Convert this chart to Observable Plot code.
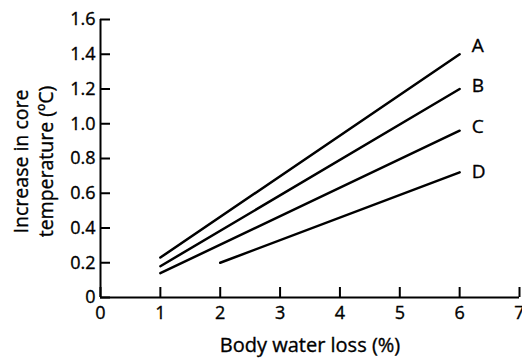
<!DOCTYPE html>
<html>
<head>
<meta charset="utf-8">
<script src="https://cdn.jsdelivr.net/npm/d3@7"></script>
<script src="https://cdn.jsdelivr.net/npm/@observablehq/plot@0.6"></script>
<style>
  html, body { margin: 0; padding: 0; background: #fff; }
  svg { font-family: "Open Sans", "Noto Sans", sans-serif; }
  svg text { stroke: #000; stroke-width: 0.35px; }
</style>
</head>
<body>
<div id="chart"></div>
<script>
const seriesNames = ["A", "B", "C", "D"];
const waterLossStart = [1, 1, 1, 2];
const waterLossEnd = [6, 6, 6, 6];
const tempStart = [0.23, 0.18, 0.14, 0.2];
const tempEnd = [1.40, 1.20, 0.96, 0.72];
const labelTemp = [1.45, 1.22, 0.98, 0.72];
const xTicks = [0, 1, 2, 3, 4, 5, 6, 7];
const yTicks = [0, 0.2, 0.4, 0.6, 0.8, 1.0, 1.2, 1.4, 1.6];
const xLabel = "Body water loss (%)";
const yLabel = "Increase in core\ntemperature (ºC)";

const points = [];
seriesNames.forEach((s, i) => {
  points.push({series: s, x: waterLossStart[i], y: tempStart[i]});
  points.push({series: s, x: waterLossEnd[i], y: tempEnd[i]});
});
const labels = seriesNames.map((s, i) => ({series: s, x: waterLossEnd[i], y: labelTemp[i]}));

const chart = Plot.plot({
  width: 522,
  height: 358,
  marginLeft: 100,
  marginRight: 3,
  marginTop: 19,
  marginBottom: 61,
  style: {fontSize: "18px", fontFamily: "'Open Sans', 'Noto Sans', sans-serif", color: "#000", background: "#fff"},
  x: {domain: [0, 7]},
  y: {domain: [0, 1.6]},
  marks: [
    Plot.axisX({ticks: xTicks, tickSize: -10, strokeWidth: 2, tickFormat: () => "", label: null}),
    Plot.axisX({ticks: xTicks, tickSize: 0, tickPadding: 9, fontSize: 18, label: null, tickFormat: d => String(d)}),
    Plot.axisY({ticks: yTicks, tickSize: -10, strokeWidth: 2, tickFormat: () => "", label: null}),
    Plot.axisY({ticks: yTicks, tickSize: 0, tickPadding: 5, fontSize: 18, label: null,
      tickFormat: d => d === 0 ? "0" : d.toFixed(1)}),
    Plot.ruleY([0], {strokeWidth: 2}),
    Plot.ruleX([0], {strokeWidth: 2}),
    Plot.line(points, {x: "x", y: "y", z: "series", stroke: "#000", strokeWidth: 2.5}),
    Plot.text(labels, {x: "x", y: "y", text: "series", textAnchor: "start", dx: 12, fontSize: 19}),
    Plot.text([xLabel], {frameAnchor: "bottom", textAnchor: "middle", lineAnchor: "middle", dy: 48, fontSize: 20}),
    Plot.text([yLabel], {frameAnchor: "left", textAnchor: "middle", lineAnchor: "middle", rotate: -90, dx: -68, dy: 3, fontSize: 19.5, lineHeight: 1.25})
  ]
});
document.getElementById("chart").appendChild(chart);
</script>
</body>
</html>
